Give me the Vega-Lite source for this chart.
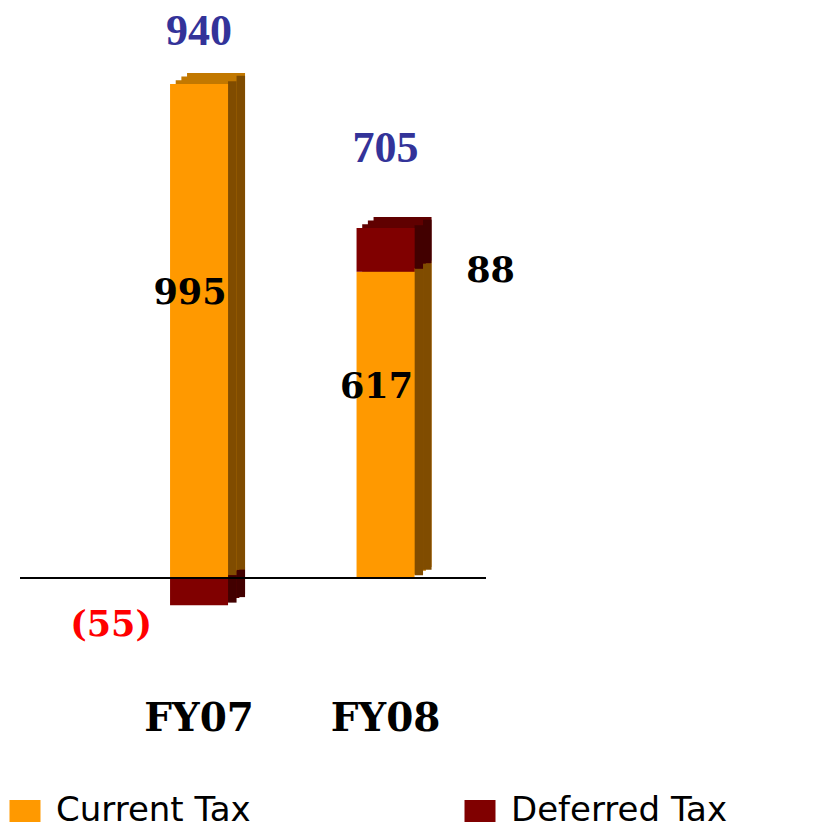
{
  "$schema": "https://vega.github.io/schema/vega-lite/v6.json",
  "width": 466,
  "height": 660,
  "autosize": {"type": "none"},
  "padding": {"left": 20, "top": 0, "right": 332, "bottom": 169},
  "background": "white",
  "config": {"view": {"stroke": null}},
  "data": {
    "values": [
      {"year": "FY07", "type": "Current Tax", "value": 995},
      {"year": "FY07", "type": "Deferred Tax", "value": -55},
      {"year": "FY08", "type": "Current Tax", "value": 617},
      {"year": "FY08", "type": "Deferred Tax", "value": 88}
    ]
  },
  "layer": [
    {
      "mark": {"type": "bar", "size": 58, "xOffset": 17, "yOffset": -11, "y2Offset": -11},
      "encoding": {
        "x": {
          "field": "year",
          "type": "nominal",
          "title": null,
          "scale": {"domain": ["FY07", "FY08"], "paddingInner": 0.5, "paddingOuter": 0.4993, "align": 0.711},
          "axis": {
            "domain": false,
            "ticks": false,
            "grid": false,
            "labelAngle": 0,
            "labelFont": "DejaVu Serif",
            "labelFontWeight": "bold",
            "labelFontSize": 39,
            "labelColor": "black",
            "labelPadding": 39
          }
        },
        "y": {"field": "value", "type": "quantitative", "stack": "zero", "scale": {"domain": [-165, 1164], "nice": false, "zero": false}, "axis": null},
        "detail": {"field": "type"},
        "order": {"field": "type"},
        "fill": {"condition": {"test": "datum.type === 'Current Tax'", "value": "#C27800"}, "value": "#600000"}
      }
    },
    {
      "mark": {"type": "bar", "size": 58, "xOffset": 11.33, "yOffset": -7.33, "y2Offset": -7.33},
      "encoding": {
        "x": {"field": "year", "type": "nominal"},
        "y": {"field": "value", "type": "quantitative", "stack": "zero"},
        "detail": {"field": "type"},
        "order": {"field": "type"},
        "fill": {"condition": {"test": "datum.type === 'Current Tax'", "value": "#C27800"}, "value": "#600000"}
      }
    },
    {
      "mark": {"type": "bar", "size": 58, "xOffset": 5.67, "yOffset": -3.67, "y2Offset": -3.67},
      "encoding": {
        "x": {"field": "year", "type": "nominal"},
        "y": {"field": "value", "type": "quantitative", "stack": "zero"},
        "detail": {"field": "type"},
        "order": {"field": "type"},
        "fill": {"condition": {"test": "datum.type === 'Current Tax'", "value": "#C27800"}, "value": "#600000"}
      }
    },
    {
      "mark": {"type": "bar", "size": 8.5, "xOffset": 41.75, "yOffset": -8.25, "y2Offset": -8.25},
      "encoding": {
        "x": {"field": "year", "type": "nominal"},
        "y": {"field": "value", "type": "quantitative", "stack": "zero"},
        "detail": {"field": "type"},
        "order": {"field": "type"},
        "fill": {"condition": {"test": "datum.type === 'Current Tax'", "value": "#804C00"}, "value": "#420000"}
      }
    },
    {
      "mark": {"type": "bar", "size": 8.5, "xOffset": 33.25, "yOffset": -2.75, "y2Offset": -2.75},
      "encoding": {
        "x": {"field": "year", "type": "nominal"},
        "y": {"field": "value", "type": "quantitative", "stack": "zero"},
        "detail": {"field": "type"},
        "order": {"field": "type"},
        "fill": {"condition": {"test": "datum.type === 'Current Tax'", "value": "#804C00"}, "value": "#420000"}
      }
    },
    {
      "mark": {"type": "bar", "size": 58},
      "encoding": {
        "x": {"field": "year", "type": "nominal"},
        "y": {"field": "value", "type": "quantitative", "stack": "zero"},
        "order": {"field": "type"},
        "color": {
          "field": "type",
          "type": "nominal",
          "scale": {"domain": ["Current Tax", "Deferred Tax"], "range": ["#FF9900", "#800000"]},
          "legend": {
            "title": null,
            "orient": "none",
            "legendX": -12,
            "legendY": 794,
            "direction": "horizontal",
            "symbolType": "M-1,-0.71H1V0.71H-1Z",
            "symbolSize": 961,
            "symbolStrokeWidth": 0,
            "symbolOpacity": 1,
            "labelFont": "DejaVu Sans",
            "labelFontSize": 34,
            "labelColor": "black",
            "labelOffset": 14,
            "columnPadding": 212,
            "labelLimit": 400
          }
        }
      }
    },
    {
      "mark": {"type": "rule", "color": "black", "strokeWidth": 1.6},
      "encoding": {"y": {"datum": 0, "type": "quantitative"}}
    },
    {
      "transform": [
        {"joinaggregate": [{"op": "sum", "field": "value", "as": "total"}], "groupby": ["year"]},
        {"filter": "datum.type === 'Current Tax'"}
      ],
      "mark": {"type": "text", "font": "Liberation Serif", "fontWeight": "bold", "fontSize": 44, "color": "#333399", "dy": -79, "baseline": "middle"},
      "encoding": {
        "x": {"field": "year", "type": "nominal"},
        "y": {"field": "total", "type": "quantitative"},
        "text": {"field": "total", "type": "quantitative", "format": "(.0f"}
      }
    },
    {
      "transform": [
        {"filter": "datum.type === 'Current Tax'"},
        {"calculate": "datum.value / 2", "as": "mid"}
      ],
      "mark": {"type": "text", "font": "DejaVu Serif", "fontWeight": "bold", "fontSize": 35, "color": "black", "dx": -9, "dy": -38, "baseline": "middle"},
      "encoding": {
        "x": {"field": "year", "type": "nominal"},
        "y": {"field": "mid", "type": "quantitative"},
        "text": {"field": "value", "type": "quantitative", "format": "(.0f"}
      }
    },
    {
      "transform": [
        {"joinaggregate": [{"op": "sum", "field": "value", "as": "total"}], "groupby": ["year"]},
        {"filter": "datum.type === 'Deferred Tax' && datum.value > 0"}
      ],
      "mark": {"type": "text", "font": "DejaVu Serif", "fontWeight": "bold", "fontSize": 35, "color": "black", "dx": 105, "dy": 43, "baseline": "middle"},
      "encoding": {
        "x": {"field": "year", "type": "nominal"},
        "y": {"field": "total", "type": "quantitative"},
        "text": {"field": "value", "type": "quantitative", "format": "(.0f"}
      }
    },
    {
      "transform": [
        {"filter": "datum.type === 'Deferred Tax' && datum.value < 0"}
      ],
      "mark": {"type": "text", "font": "DejaVu Serif", "fontWeight": "bold", "fontSize": 35, "color": "#FF0000", "dx": -88, "dy": 20, "baseline": "middle"},
      "encoding": {
        "x": {"field": "year", "type": "nominal"},
        "y": {"field": "value", "type": "quantitative"},
        "text": {"field": "value", "type": "quantitative", "format": "(.0f"}
      }
    }
  ]
}
